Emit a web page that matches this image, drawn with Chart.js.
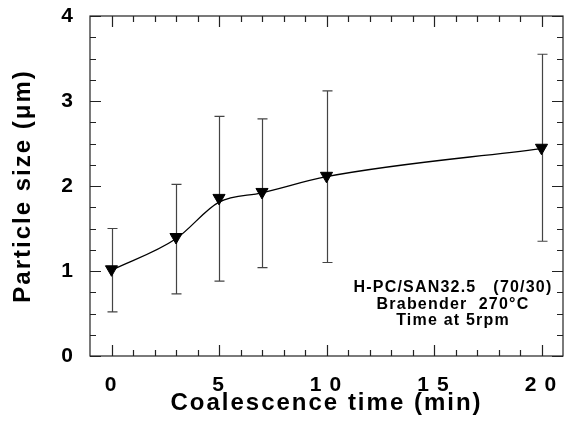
<!DOCTYPE html>
<html>
<head>
<meta charset="utf-8">
<script src="https://cdn.jsdelivr.net/npm/chart.js@4"></script>
<style>
html,body{margin:0;padding:0;background:#fff;}
#wrap{width:564px;height:424px;position:relative;}
</style>
</head>
<body>
<div id="wrap"><canvas id="c" width="564" height="424"></canvas></div>
<script>
const times = [0, 3, 5, 7, 10, 20];
const particleSize = [1.02, 1.40, 1.86, 1.93, 2.12, 2.45];
const fitCurve = [1.01, 1.38, 1.81, 1.92, 2.11, 2.44];
const errLow = [0.52, 0.73, 0.88, 1.04, 1.10, 1.35];
const errHigh = [1.50, 2.02, 2.82, 2.79, 3.12, 3.55];
const xTickValues = [0, 5, 10, 15, 20];
const xTickLabels = ['0', '5', '1\u20090', '1\u20095', '2\u20090'];
const yTickValues = [0, 1, 2, 3, 4];
const yTickLabels = ['0', '1', '2', '3', '4'];
const noteLines = ['H-PC/SAN32.5   (70/30)', 'Brabender  270°C', 'Time at 5rpm'];

const FONT = "'Liberation Sans', Arial, Helvetica, sans-serif";
const AXIS = '#222';

const canvas = document.getElementById('c');

const spacing = {
  id: 'spacing',
  beforeDraw(chart) { chart.ctx.letterSpacing = '2px'; }
};

const frameTicks = {
  id: 'frameTicks',
  afterDatasetsDraw(chart) {
    const {ctx, chartArea: a, scales: {x, y}} = chart;
    ctx.save();
    ctx.strokeStyle = AXIS;
    ctx.lineWidth = 1.2;
    ctx.strokeRect(a.left, a.top, a.right - a.left, a.bottom - a.top);
    ctx.beginPath();
    for (let v = 0; v <= 20; v++) {
      const px = Math.round(x.getPixelForValue(v)) + 0.5;
      const len = (v % 5 === 0) ? 11 : 6;
      ctx.moveTo(px, a.bottom); ctx.lineTo(px, a.bottom - len);
      ctx.moveTo(px, a.top); ctx.lineTo(px, a.top + len);
    }
    for (let k = 0; k <= 16; k++) {
      const v = k * 0.25;
      const py = Math.round(y.getPixelForValue(v)) + 0.5;
      const len = (k % 4 === 0) ? 11 : 6;
      ctx.moveTo(a.left, py); ctx.lineTo(a.left + len, py);
      ctx.moveTo(a.right, py); ctx.lineTo(a.right - len, py);
    }
    ctx.stroke();
    ctx.restore();
  }
};

const errorBars = {
  id: 'errorBars',
  beforeDatasetsDraw(chart) {
    const {ctx, scales: {x, y}} = chart;
    ctx.save();
    ctx.strokeStyle = '#444';
    ctx.lineWidth = 1.2;
    ctx.beginPath();
    times.forEach((t, i) => {
      const px = Math.round(x.getPixelForValue(t)) + 0.5;
      const yl = y.getPixelForValue(errLow[i]);
      const yh = y.getPixelForValue(errHigh[i]);
      ctx.moveTo(px, yl); ctx.lineTo(px, yh);
      ctx.moveTo(px - 5, yl); ctx.lineTo(px + 5, yl);
      ctx.moveTo(px - 5, yh); ctx.lineTo(px + 5, yh);
    });
    ctx.stroke();
    ctx.restore();
  }
};

const note = {
  id: 'note',
  afterDraw(chart) {
    const {ctx} = chart;
    ctx.save();
    ctx.letterSpacing = '1.2px';
    ctx.fillStyle = '#000';
    ctx.font = 'bold 16px ' + FONT;
    ctx.textAlign = 'center';
    ctx.textBaseline = 'middle';
    const cx = 453;
    noteLines.forEach((s, i) => ctx.fillText(s, cx, 288 + i * 16.5));
    ctx.restore();
  }
};

new Chart(canvas, {
  type: 'line',
  data: {
    datasets: [{
      data: times.map((t, i) => ({x: t, y: fitCurve[i]})),
      borderColor: '#000',
      borderWidth: 1.3,
      cubicInterpolationMode: 'monotone',
      pointRadius: 0,
      fill: false
    }, {
      data: times.map((t, i) => ({x: t, y: particleSize[i]})),
      showLine: false,
      pointStyle: 'triangle',
      rotation: 180,
      pointRadius: 7,
      pointBackgroundColor: '#000',
      pointBorderColor: '#000',
      pointBorderWidth: 1
    }]
  },
  options: {
    responsive: false,
    animation: false,
    devicePixelRatio: 1,
    layout: {autoPadding: false, padding: {top: 16, right: 1, left: 0, bottom: 0}},
    plugins: {legend: {display: false}, tooltip: {enabled: false}},
    scales: {
      x: {
        type: 'linear', min: -1, max: 21,
        grid: {display: false, drawTicks: false},
        border: {display: false},
        afterBuildTicks: s => { s.ticks = xTickValues.map(v => ({value: v})); },
        afterFit: s => { s.height = 68; s.paddingLeft = 0; s.paddingRight = 0; },
        ticks: {
          autoSkip: false, maxRotation: 0, padding: 17,
          color: '#000',
          font: {family: FONT, size: 21, weight: 'bold'},
          callback: v => { const i = xTickValues.indexOf(v); return i >= 0 ? xTickLabels[i] : ''; }
        },
        title: {display: true, text: 'Coalescence time (min)', color: '#000',
          font: {family: FONT, size: 24, weight: 'bold'}, padding: {top: 0, bottom: 6}}
      },
      y: {
        min: 0, max: 4,
        grid: {display: false, drawTicks: false},
        border: {display: false},
        afterBuildTicks: s => { s.ticks = yTickValues.map(v => ({value: v})); },
        afterFit: s => { s.width = 90; s.paddingTop = 0; s.paddingBottom = 0; },
        ticks: {
          padding: 15, color: '#000',
          font: {family: FONT, size: 21, weight: 'bold'},
          callback: v => { const i = yTickValues.indexOf(v); return i >= 0 ? yTickLabels[i] : ''; }
        },
        title: {display: true, text: 'Particle size (μm)', color: '#000',
          font: {family: FONT, size: 24, weight: 'bold'}, padding: {top: 9, bottom: 0}}
      }
    }
  },
  plugins: [spacing, errorBars, frameTicks, note]
});
</script>
</body>
</html>
